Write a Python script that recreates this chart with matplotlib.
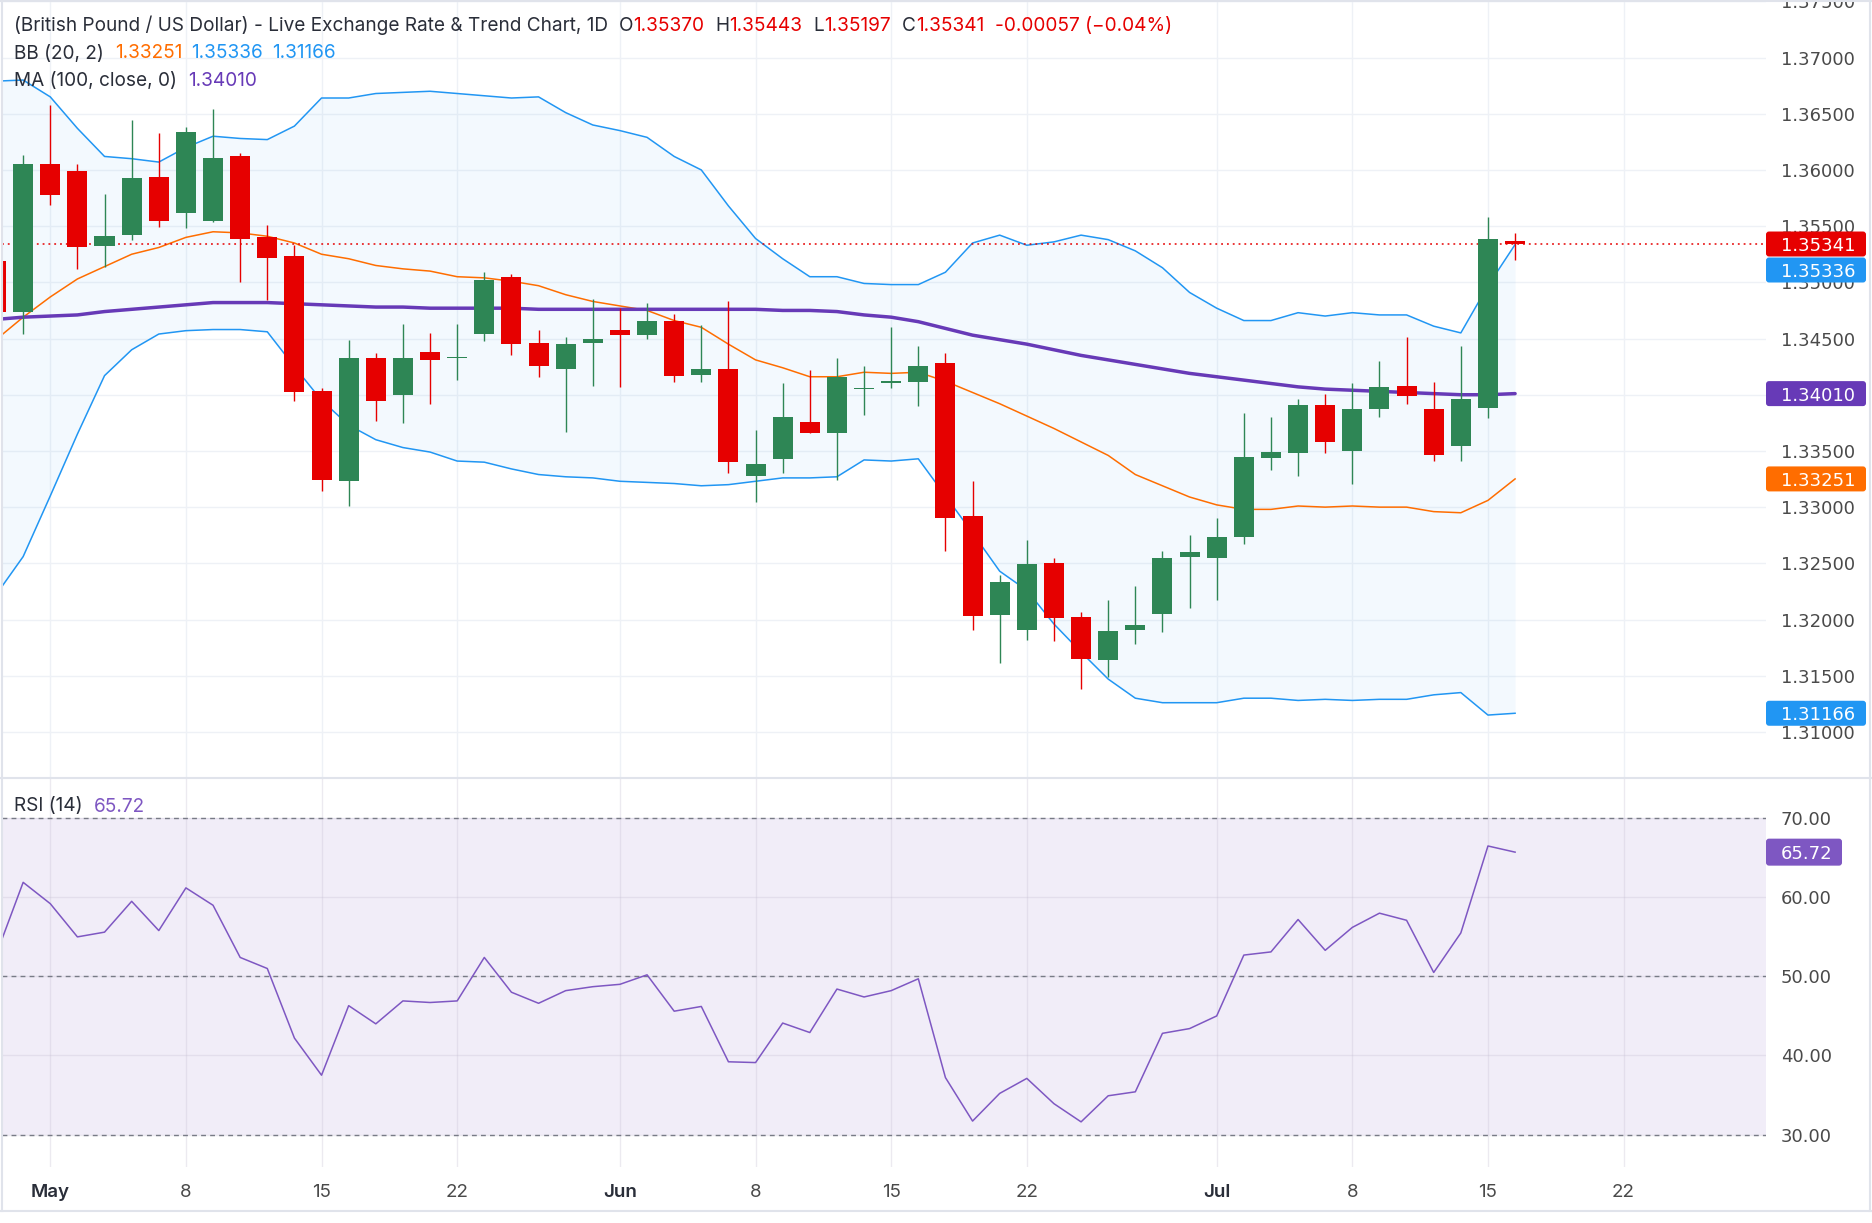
import numpy as np
import matplotlib.pyplot as plt
import matplotlib.transforms as mtransforms
from matplotlib.patches import FancyBboxPatch
from matplotlib.lines import Line2D

# GBP/USD daily bars; bar 0 is 1 May, two earlier bars sit at the left edge
bar_index = list(range(-2, 55))

opens = [1.3519, 1.3474, 1.3605, 1.3599, 1.3532, 1.3542, 1.3594, 1.3562, 1.3555, 1.3612,
         1.3540, 1.3523, 1.3403, 1.3323, 1.3433, 1.3400, 1.3438, 1.3433, 1.3454, 1.3505,
         1.3446, 1.3423, 1.3446, 1.3458, 1.3453, 1.3466, 1.3418, 1.3423, 1.3328, 1.3343,
         1.3376, 1.3366, 1.3405, 1.3410, 1.3411, 1.3428, 1.3292, 1.3204, 1.3191, 1.3250,
         1.3202, 1.3164, 1.3191, 1.3205, 1.3256, 1.3255, 1.3273, 1.3344, 1.3348, 1.3391,
         1.3350, 1.3387, 1.3408, 1.3387, 1.3354, 1.3388, 1.35370]
highs = [1.3523, 1.3613, 1.3658, 1.3605, 1.3579, 1.3644, 1.3633, 1.3638, 1.3654, 1.3615,
         1.3551, 1.3533, 1.3406, 1.3449, 1.3437, 1.3463, 1.3455, 1.3463, 1.3509, 1.3507,
         1.3458, 1.3451, 1.3485, 1.3477, 1.3482, 1.3472, 1.3462, 1.3483, 1.3369, 1.3410,
         1.3422, 1.3433, 1.3426, 1.3460, 1.3443, 1.3437, 1.3323, 1.3240, 1.3271, 1.3255,
         1.3207, 1.3217, 1.3230, 1.3261, 1.3275, 1.3290, 1.3384, 1.3380, 1.3396, 1.3401,
         1.3410, 1.3430, 1.3451, 1.3411, 1.3443, 1.3558, 1.35443]
lows = [1.3470, 1.3454, 1.3569, 1.3512, 1.3514, 1.3538, 1.3549, 1.3548, 1.3554, 1.3500,
        1.3484, 1.3394, 1.3314, 1.3301, 1.3377, 1.3375, 1.3392, 1.3413, 1.3448, 1.3435,
        1.3416, 1.3367, 1.3408, 1.3407, 1.3450, 1.3411, 1.3411, 1.3330, 1.3305, 1.3330,
        1.3366, 1.3324, 1.3382, 1.3406, 1.3390, 1.3261, 1.3191, 1.3161, 1.3182, 1.3181,
        1.3138, 1.3149, 1.3178, 1.3189, 1.3210, 1.3217, 1.3267, 1.3333, 1.3328, 1.3348,
        1.3321, 1.3380, 1.3392, 1.3341, 1.3341, 1.3379, 1.35197]
closes = [1.3474, 1.3605, 1.3578, 1.3531, 1.3541, 1.3593, 1.3555, 1.3634, 1.3611, 1.3539,
          1.3522, 1.3402, 1.3324, 1.3433, 1.3394, 1.3433, 1.3431, 1.3434, 1.3502, 1.3445,
          1.3426, 1.3445, 1.3450, 1.3453, 1.3466, 1.3417, 1.3423, 1.3340, 1.3338, 1.3380,
          1.3366, 1.3416, 1.3406, 1.3412, 1.3426, 1.3290, 1.3203, 1.3233, 1.3249, 1.3201,
          1.3165, 1.3190, 1.3195, 1.3255, 1.3260, 1.3273, 1.3345, 1.3349, 1.3391, 1.3358,
          1.3387, 1.3407, 1.3399, 1.3346, 1.3396, 1.3539, 1.35341]

# Bollinger Bands (20, 2)
bb_upper = [1.3679, 1.3680, 1.3665, 1.3637, 1.3612, 1.3610, 1.3607, 1.3620, 1.3630, 1.3628,
            1.3627, 1.3639, 1.3664, 1.3664, 1.3668, 1.3669, 1.3670, 1.3668, 1.3666, 1.3664,
            1.3665, 1.3651, 1.3640, 1.3635, 1.3629, 1.3612, 1.3600, 1.3568, 1.3539, 1.3521,
            1.3505, 1.3505, 1.3499, 1.3498, 1.3498, 1.3509, 1.3535, 1.3542, 1.3533, 1.3536,
            1.3542, 1.3538, 1.3528, 1.3513, 1.3491, 1.3477, 1.3466, 1.3466, 1.3473, 1.3470,
            1.3473, 1.3471, 1.3471, 1.3461, 1.3455, 1.3497, 1.35336]
bb_basis = [1.3449, 1.3469, 1.3487, 1.3503, 1.3514, 1.3525, 1.3531, 1.3540, 1.3545, 1.3544,
            1.3541, 1.3535, 1.3525, 1.3521, 1.3515, 1.3512, 1.3510, 1.3505, 1.3504, 1.3501,
            1.3497, 1.3489, 1.3483, 1.3479, 1.3475, 1.3466, 1.3460, 1.3445, 1.3431, 1.3424,
            1.3416, 1.3416, 1.3420, 1.3419, 1.3420, 1.3412, 1.3402, 1.3392, 1.3381, 1.3370,
            1.3358, 1.3346, 1.3329, 1.3319, 1.3309, 1.3302, 1.3298, 1.3298, 1.3301, 1.3300,
            1.3301, 1.3300, 1.3300, 1.3296, 1.3295, 1.3306, 1.33251]
bb_lower = [1.3222, 1.3256, 1.3310, 1.3365, 1.3417, 1.3440, 1.3454, 1.3457, 1.3458, 1.3458,
            1.3456, 1.3425, 1.3395, 1.3373, 1.3360, 1.3353, 1.3349, 1.3341, 1.3340, 1.3334,
            1.3329, 1.3327, 1.3326, 1.3323, 1.3322, 1.3321, 1.3319, 1.3320, 1.3323, 1.3326,
            1.3326, 1.3327, 1.3342, 1.3341, 1.3343, 1.3310, 1.3277, 1.3243, 1.3226, 1.3196,
            1.3171, 1.3147, 1.3130, 1.3126, 1.3126, 1.3126, 1.3130, 1.3130, 1.3128, 1.3129,
            1.3128, 1.3129, 1.3129, 1.3133, 1.3135, 1.3115, 1.31166]

# MA (100, close)
ma_100 = [1.3467, 1.3469, 1.3470, 1.3471, 1.3474, 1.3476, 1.3478, 1.3480, 1.3482, 1.3482,
          1.3482, 1.3481, 1.3480, 1.3479, 1.3478, 1.3478, 1.3477, 1.3477, 1.3477, 1.3477,
          1.3476, 1.3476, 1.3476, 1.3476, 1.3476, 1.3476, 1.3476, 1.3476, 1.3476, 1.3475,
          1.3475, 1.3474, 1.3471, 1.3469, 1.3465, 1.3459, 1.3453, 1.3449, 1.3445, 1.3440,
          1.3435, 1.3431, 1.3427, 1.3423, 1.3419, 1.3416, 1.3413, 1.3410, 1.3407, 1.3405,
          1.3404, 1.3403, 1.3402, 1.3401, 1.3400, 1.3400, 1.34010]

# RSI (14)
rsi_14 = [52.7, 61.9, 59.2, 55.0, 55.6, 59.5, 55.8, 61.2, 59.0, 52.4,
          51.0, 42.2, 37.5, 46.3, 44.0, 46.9, 46.7, 46.9, 52.4, 48.0,
          46.6, 48.2, 48.7, 49.0, 50.2, 45.6, 46.2, 39.2, 39.1, 44.1,
          42.9, 48.4, 47.4, 48.2, 49.7, 37.2, 31.7, 35.2, 37.1, 33.9,
          31.6, 34.9, 35.4, 42.8, 43.4, 45.0, 52.7, 53.1, 57.2, 53.3,
          56.2, 58.0, 57.1, 50.5, 55.5, 66.5, 65.72]

date_tick_bars = [0, 5, 10, 15, 21, 26, 31, 36, 43, 48, 53, 58]
date_tick_labels = ['May', '8', '15', '22', 'Jun', '8', '15', '22', 'Jul', '8', '15', '22']
month_labels = {'May', 'Jun', 'Jul'}
price_ticks = [1.310, 1.315, 1.320, 1.325, 1.330, 1.335, 1.340, 1.345,
               1.350, 1.355, 1.360, 1.365, 1.370, 1.375]
rsi_ticks = [30, 40, 50, 60, 70]

title = '(British Pound / US Dollar) - Live Exchange Rate & Trend Chart, 1D'
change_text = '-0.00057 (\u22120.04%)'

# colours
GREEN = '#2e8655'
RED = '#e60000'
BB_BLUE = '#2196f3'
BB_ORANGE = '#ff6d00'
MA_PURPLE = '#673ab7'
RSI_PURPLE = '#7e57c2'
TEXT_DARK = '#2a2e39'
AXIS_TEXT = '#4a4a4a'
GRID = '#eef1f6'
BORDER = '#e0e3eb'
UI_FONT = ['Inter', 'DejaVu Sans']
NUM_FONT = ['DejaVu Sans']
LEGEND_SIZE = 13.7

# layout in pixels of the 1872x1223 canvas
W, H = 1872, 1223
PLOT_LEFT, PLOT_RIGHT = 2, 1766
PANE_SPLIT, RSI_BOTTOM = 778, 1167
XLIM = (-1.78, 63.25)
PRICE_YLIM = (1.3059, 1.37512)
RSI_YLIM = (25.89, 75.10)


def px_rect(x0, y0, x1, y1):
    """Axes rectangle in figure fractions from pixel corners (y measured from the top)."""
    return [x0 / W, 1 - y1 / H, (x1 - x0) / W, (y1 - y0) / H]


def text_row(fig, x_px, baseline_px, pieces, size):
    """Write coloured pieces one after another on a single line."""
    renderer = fig.canvas.get_renderer()
    x = x_px
    for text, color, gap in pieces:
        x += gap
        t = fig.text(x, H - baseline_px, text, color=color, fontsize=size, family=UI_FONT,
                     ha='left', va='baseline', transform=mtransforms.IdentityTransform(),
                     zorder=30)
        x = t.get_window_extent(renderer).x1


def draw_tags(fig, tags, x0, width, height):
    """Coloured value boxes on the right scale; later ones move down if they collide."""
    placed = []
    for ax, value, label, face in tags:
        yc = ax.transData.transform((0, value))[1]
        for other in placed:
            if abs(yc - other) < height + 1:
                yc = other - height - 1
        placed.append(yc)
        box = FancyBboxPatch((x0, yc - height / 2), width, height,
                             boxstyle='round,pad=0,rounding_size=3',
                             transform=mtransforms.IdentityTransform(),
                             facecolor=face, edgecolor='none', zorder=40)
        fig.add_artist(box)
        fig.text(x0 + 15, yc, label, color='white', fontsize=13, family=NUM_FONT,
                 ha='left', va='center_baseline', transform=mtransforms.IdentityTransform(),
                 zorder=41)


fig = plt.figure(figsize=(W / 100, H / 100), dpi=100)
fig.patch.set_facecolor('white')

ax = fig.add_axes(px_rect(PLOT_LEFT, 0, PLOT_RIGHT, PANE_SPLIT))
ax_rsi = fig.add_axes(px_rect(PLOT_LEFT, PANE_SPLIT, PLOT_RIGHT, RSI_BOTTOM))

x = np.array(bar_index)
o, h, l, c = (np.array(v) for v in (opens, highs, lows, closes))

# --- price pane ---
ax.fill_between(x, bb_lower, bb_upper, color=BB_BLUE, alpha=0.05, lw=0, zorder=1)
ax.plot(x, bb_upper, color=BB_BLUE, lw=1.1, zorder=2)
ax.plot(x, bb_lower, color=BB_BLUE, lw=1.1, zorder=2)
ax.plot(x, bb_basis, color=BB_ORANGE, lw=1.1, zorder=2)
ax.plot(x, ma_100, color=MA_PURPLE, lw=2.5, zorder=2, solid_capstyle='round')

colors = np.where(c >= o, GREEN, RED)
ax.vlines(x, l, h, colors=colors, lw=1.0, zorder=4)
body = np.maximum(np.abs(c - o), 0.0001)
ax.bar(x, body, bottom=np.minimum(o, c), width=0.74, color=colors, lw=0, zorder=5)

ax.axhline(closes[-1], color=RED, lw=1.1, ls=(0, (1.2, 2.6)), zorder=3)

ax.set_xlim(*XLIM)
ax.set_ylim(*PRICE_YLIM)
ax.set_xticks(date_tick_bars)
ax.set_yticks(price_ticks)
ax.set_yticklabels([f'{t:.5f}' for t in price_ticks])
ax.yaxis.tick_right()
ax.tick_params(axis='x', length=0, labelbottom=False)
ax.tick_params(axis='y', length=0, pad=10.8, labelsize=13, labelcolor=AXIS_TEXT)
ax.grid(True, color=GRID, lw=1)
ax.set_axisbelow(True)
for s in ax.spines.values():
    s.set_visible(False)

# --- RSI pane ---
ax_rsi.axhspan(30, 70, color=RSI_PURPLE, alpha=0.1, lw=0, zorder=0)
for level in (70, 50, 30):
    ax_rsi.axhline(level, color='#787b86', lw=1, ls=(0, (3.5, 3)), zorder=2)
ax_rsi.plot(x, rsi_14, color=RSI_PURPLE, lw=1.1, zorder=3)

ax_rsi.set_xlim(*XLIM)
ax_rsi.set_ylim(*RSI_YLIM)
ax_rsi.set_yticks(rsi_ticks)
ax_rsi.set_yticklabels([f'{t:.2f}' for t in rsi_ticks])
ax_rsi.yaxis.tick_right()
ax_rsi.set_xticks(date_tick_bars)
ax_rsi.set_xticklabels(date_tick_labels)
ax_rsi.tick_params(axis='y', length=0, pad=10.8, labelsize=13, labelcolor=AXIS_TEXT)
ax_rsi.tick_params(axis='x', length=0, pad=12, labelsize=13.5, labelcolor=AXIS_TEXT)
for lab in ax_rsi.get_xticklabels():
    lab.set_family(UI_FONT)
    if lab.get_text() in month_labels:
        lab.set_fontweight('semibold')
        lab.set_color(TEXT_DARK)
for lab in ax.get_yticklabels() + ax_rsi.get_yticklabels():
    lab.set_family(NUM_FONT)
ax_rsi.grid(True, color='#c9c4d6', lw=1, alpha=0.35)
ax_rsi.set_axisbelow(True)
for s in ax_rsi.spines.values():
    s.set_visible(False)

# --- frame lines ---
for xs, ys in [((0, W), (H - PANE_SPLIT, H - PANE_SPLIT)),
               ((1.5, 1.5), (H - 1211, H)),
               ((W - 2, W - 2), (H - 1211, H)),
               ((0, W), (H - 1211, H - 1211)),
               ((0, W), (H - 0.5, H - 0.5))]:
    fig.add_artist(Line2D(xs, ys, color=BORDER, lw=1.5,
                          transform=mtransforms.IdentityTransform(), zorder=25))

# --- legend text ---
text_row(fig, 14, 31, [(title, TEXT_DARK, 0),
                       ('O', TEXT_DARK, 11), (f'{opens[-1]:.5f}', RED, 0),
                       ('H', TEXT_DARK, 11), (f'{highs[-1]:.5f}', RED, 0),
                       ('L', TEXT_DARK, 11), (f'{lows[-1]:.5f}', RED, 0),
                       ('C', TEXT_DARK, 11), (f'{closes[-1]:.5f}', RED, 0),
                       (change_text, RED, 11)], LEGEND_SIZE)
text_row(fig, 14, 58.5, [('BB (20, 2)', TEXT_DARK, 0),
                         (f'{bb_basis[-1]:.5f}', BB_ORANGE, 11),
                         (f'{bb_upper[-1]:.5f}', BB_BLUE, 9),
                         (f'{bb_lower[-1]:.5f}', BB_BLUE, 9)], LEGEND_SIZE)
text_row(fig, 14, 86, [('MA (100, close, 0)', TEXT_DARK, 0),
                       (f'{ma_100[-1]:.5f}', MA_PURPLE, 11)], LEGEND_SIZE)
text_row(fig, 14, 811.5, [('RSI (14)', TEXT_DARK, 0),
                          (f'{rsi_14[-1]:.2f}', RSI_PURPLE, 11)], LEGEND_SIZE)

# --- value tags on the scales ---
draw_tags(fig, [(ax, closes[-1], f'{closes[-1]:.5f}', RED),
                (ax, ma_100[-1], f'{ma_100[-1]:.5f}', MA_PURPLE),
                (ax, bb_basis[-1], f'{bb_basis[-1]:.5f}', BB_ORANGE),
                (ax, bb_upper[-1], f'{bb_upper[-1]:.5f}', BB_BLUE),
                (ax, bb_lower[-1], f'{bb_lower[-1]:.5f}', BB_BLUE)],
          PLOT_RIGHT, 100, 25)
draw_tags(fig, [(ax_rsi, rsi_14[-1], f'{rsi_14[-1]:.2f}', RSI_PURPLE)],
          PLOT_RIGHT, 76, 27)

fig.savefig('out.png', dpi=100)
